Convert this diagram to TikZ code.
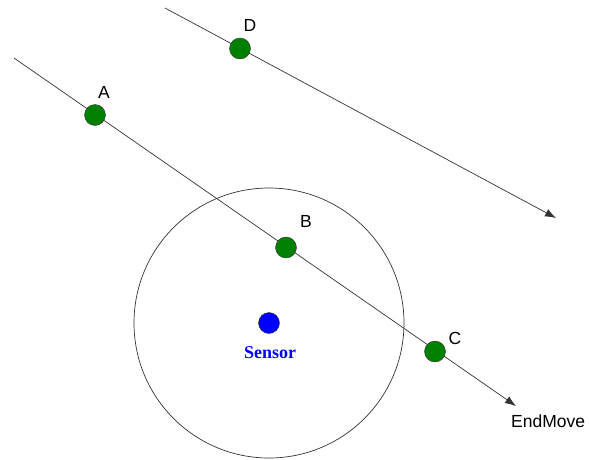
\documentclass[tikz,border=0pt]{standalone}
\usepackage{fontspec}
\setmainfont{Liberation Sans}
\newfontfamily\serifbold{Liberation Serif}
\usetikzlibrary{arrows.meta, positioning}

\begin{document}
\begin{tikzpicture}[
  x=1pt, y=-1pt,
  >={Latex[length=11pt,width=8pt]},
  dot/.style={circle, draw=black!80, thin, minimum size=21pt, inner sep=0pt},
  lbl/.style={font=\fontsize{17.5}{20}\selectfont, inner sep=0pt},
  move/.style={->, draw=black!80, line width=0.7pt},
]
\definecolor{cdot}{HTML}{008000}
\definecolor{csensor}{HTML}{0000FF}
\useasboundingbox (0,0) rectangle (589,459);
% sensing range
\node[circle, draw=black!80, line width=0.7pt, minimum size=270pt, inner sep=0pt] (range) at (269,323) {};
% movement paths
\coordinate (s1) at (14,58);
\coordinate (e1) at (516,406);
\coordinate (s2) at (165,8);
\coordinate (e2) at (556,218);
\draw[move] (s1)--(e1);
\draw[move] (s2)--(e2);
% points on the paths
\node[dot,fill=cdot] (A) at (95,115) {};
\node[dot,fill=cdot] (B) at (286,247.5) {};
\node[dot,fill=cdot] (C) at (435,351.5) {};
\node[dot,fill=cdot] (D) at (240,48.5) {};
\node[lbl] (lA) at (104,92) {A};
\node[lbl] (lB) at (306,221) {B};
\node[lbl] (lC) at (455,338) {C};
\node[lbl] (lD) at (250,25) {D};
% sensor
\node[dot,fill=csensor] (sensor) at (269,323) {};
\node[font=\serifbold\bfseries\fontsize{18}{20}\selectfont, text=csensor, inner sep=0pt] (lsensor) at (270,353) {Sensor};
\node[lbl, anchor=west] (lend) at (511,421) {EndMove};
\end{tikzpicture}
\end{document}
